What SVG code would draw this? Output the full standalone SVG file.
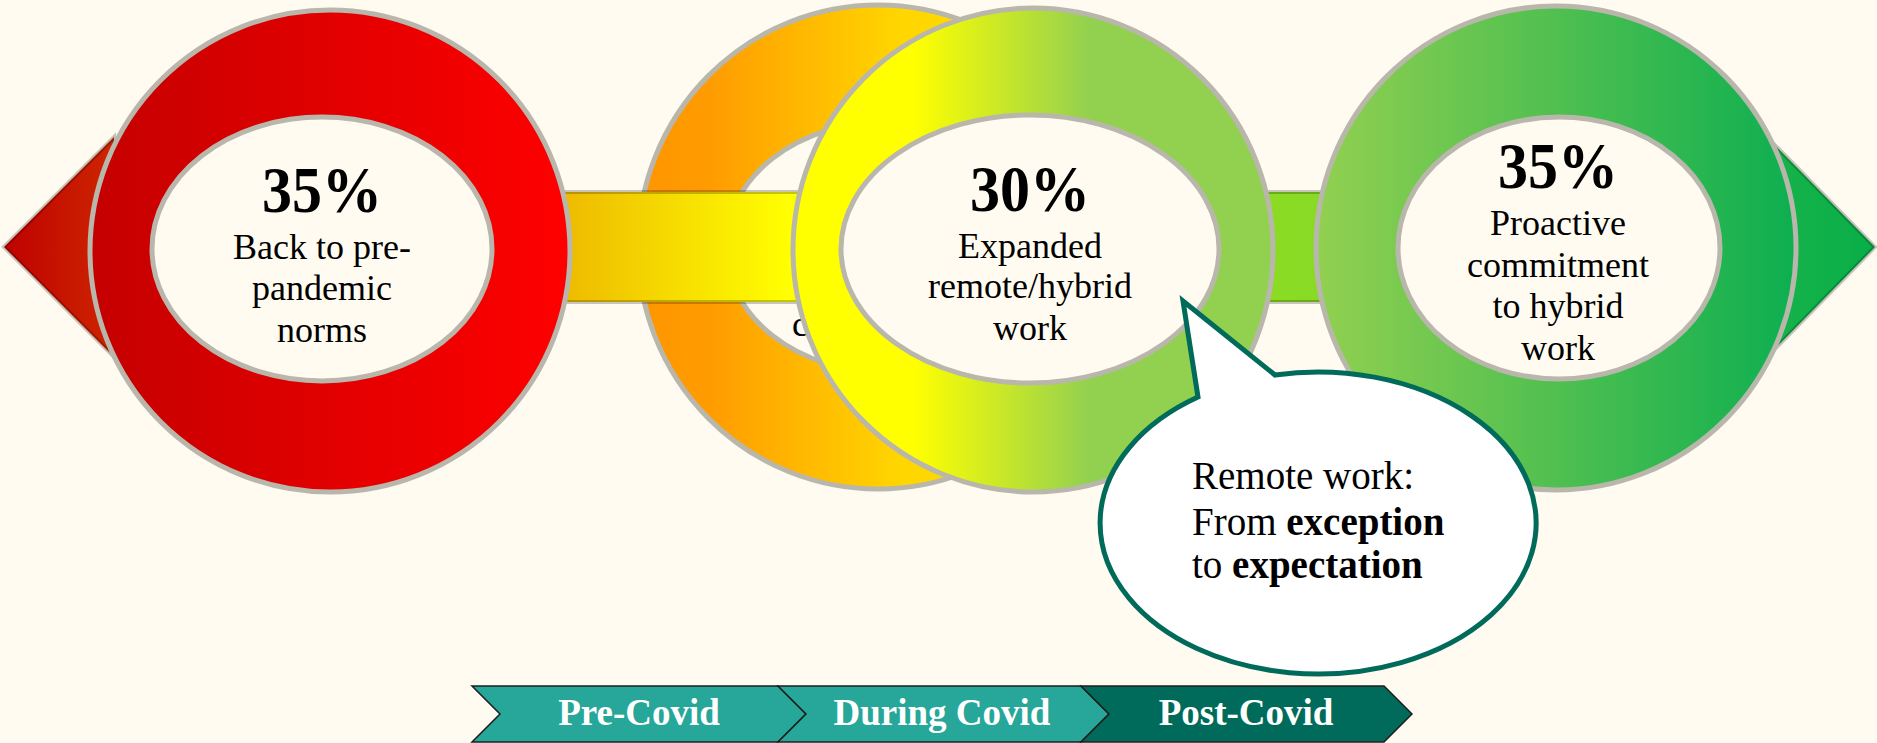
<svg xmlns="http://www.w3.org/2000/svg" width="1877" height="743" viewBox="0 0 1877 743">
  <defs>
    <linearGradient id="gArrow" gradientUnits="userSpaceOnUse" x1="0" y1="0" x2="1877" y2="0">
      <stop offset="0" stop-color="#BE0000"/>
      <stop offset="0.055" stop-color="#CC2200"/>
      <stop offset="0.30" stop-color="#EEBA00"/>
      <stop offset="0.42" stop-color="#FFFF00"/>
      <stop offset="0.68" stop-color="#8ADB22"/>
      <stop offset="0.70" stop-color="#88DA25"/>
      <stop offset="0.94" stop-color="#18B34A"/>
      <stop offset="1" stop-color="#08AE48"/>
    </linearGradient>
    <linearGradient id="gRed" x1="0" y1="0" x2="1" y2="0">
      <stop offset="0" stop-color="#C40000"/>
      <stop offset="1" stop-color="#FF0000"/>
    </linearGradient>
    <linearGradient id="gOrange" x1="0" y1="0" x2="1" y2="0">
      <stop offset="0" stop-color="#FF9500"/>
      <stop offset="0.15" stop-color="#FF9C00"/>
      <stop offset="0.55" stop-color="#FFD600"/>
      <stop offset="1" stop-color="#FFE000"/>
    </linearGradient>
    <linearGradient id="gYellow" x1="0" y1="0" x2="1" y2="0">
      <stop offset="0" stop-color="#FFFF00"/>
      <stop offset="0.25" stop-color="#FFFF00"/>
      <stop offset="0.62" stop-color="#92D050"/>
      <stop offset="1" stop-color="#92D050"/>
    </linearGradient>
    <linearGradient id="gGreen" x1="0" y1="0" x2="1" y2="0">
      <stop offset="0" stop-color="#92D050"/>
      <stop offset="1" stop-color="#0DAF50"/>
    </linearGradient>
  </defs>
  <style>
    .ring { stroke: #B9B6AC; stroke-width: 5; }
    .hole { fill: #FFFBF0; stroke: #B9B6AC; stroke-width: 5; }
    .pct { font-family: "Liberation Serif", "DejaVu Serif", serif; font-weight: bold; font-size: 66px; fill: #000; text-anchor: middle; }
    .lbl { font-family: "Liberation Serif", "DejaVu Serif", serif; font-size: 36px; fill: #000; text-anchor: middle; }
    .note { font-family: "Liberation Serif", "DejaVu Serif", serif; font-size: 39px; fill: #000; }
    .note .b { font-weight: bold; }
    .chev { stroke: #1E1E1E; stroke-width: 1.5; }
    .chev-txt { font-family: "Liberation Serif", "DejaVu Serif", serif; font-weight: bold; font-size: 37px; fill: #FFFFFF; text-anchor: middle; }
  </style>

  <rect width="1877" height="743" fill="#FFFBF0"/>

  <!-- orange ring sits behind the arrow and the yellow ring -->
  <g id="node-orange">
    <ellipse class="ring" cx="878" cy="247" rx="240" ry="242" fill="url(#gOrange)"/>
    <ellipse class="hole" cx="884" cy="247" rx="158" ry="125"/>
    <text class="lbl" x="800" y="336" text-anchor="start">c</text>
  </g>

  <g id="connectors">
    <path d="M4,247 L114,137 L114,192 L1767,192 L1767,137 L1875,247 L1767,357 L1767,302 L114,302 L114,357 Z"
          fill="url(#gArrow)" stroke="#000" stroke-opacity="0.22" stroke-width="4" stroke-linejoin="miter"/>
  </g>

  <g id="node-red">
    <ellipse class="ring" cx="330" cy="251" rx="240" ry="241" fill="url(#gRed)"/>
    <ellipse class="hole" cx="322" cy="249" rx="170" ry="132"/>
    <text class="pct" x="322" y="212" textLength="120" lengthAdjust="spacingAndGlyphs">35%</text>
    <text class="lbl" x="322" y="259">Back to pre-</text>
    <text class="lbl" x="322" y="300">pandemic</text>
    <text class="lbl" x="322" y="342">norms</text>
  </g>

  <g id="node-yellow">
    <ellipse class="ring" cx="1033" cy="250" rx="240" ry="242" fill="url(#gYellow)"/>
    <ellipse class="hole" cx="1030" cy="249" rx="189" ry="134"/>
    <text class="pct" x="1030" y="211" textLength="120" lengthAdjust="spacingAndGlyphs">30%</text>
    <text class="lbl" x="1030" y="258">Expanded</text>
    <text class="lbl" x="1030" y="298">remote/hybrid</text>
    <text class="lbl" x="1030" y="340">work</text>
  </g>

  <g id="node-green">
    <ellipse class="ring" cx="1556" cy="248" rx="240" ry="242" fill="url(#gGreen)"/>
    <ellipse class="hole" cx="1559" cy="248" rx="161" ry="131"/>
    <text class="pct" x="1558" y="188" textLength="120" lengthAdjust="spacingAndGlyphs">35%</text>
    <text class="lbl" x="1558" y="235">Proactive</text>
    <text class="lbl" x="1558" y="277">commitment</text>
    <text class="lbl" x="1558" y="318">to hybrid</text>
    <text class="lbl" x="1558" y="360">work</text>
  </g>

  <g id="callout">
    <path d="M1198,397 L1183,301 L1275,375 A218,151 0 1 1 1198,397 Z"
          fill="#FFFFFF" stroke="#006B5A" stroke-width="5" stroke-linejoin="miter"/>
    <text class="note" x="1192" y="489">Remote work:</text>
    <text class="note" x="1192" y="535">From <tspan class="b">exception</tspan></text>
    <text class="note" x="1192" y="578">to <tspan class="b">expectation</tspan></text>
  </g>

  <g id="timeline">
    <g id="step-pre">
      <path class="chev" d="M472,686 L778,686 L806,714 L778,742 L472,742 L500,714 Z" fill="#27A69A"/>
      <text class="chev-txt" x="639" y="725">Pre-Covid</text>
    </g>
    <g id="step-during">
      <path class="chev" d="M778,686 L1081,686 L1109,714 L1081,742 L778,742 L806,714 Z" fill="#27A69A"/>
      <text class="chev-txt" x="942" y="725">During Covid</text>
    </g>
    <g id="step-post">
      <path class="chev" d="M1081,686 L1384,686 L1412,714 L1384,742 L1081,742 L1109,714 Z" fill="#006B5A"/>
      <text class="chev-txt" x="1246" y="725">Post-Covid</text>
    </g>
  </g>
</svg>
